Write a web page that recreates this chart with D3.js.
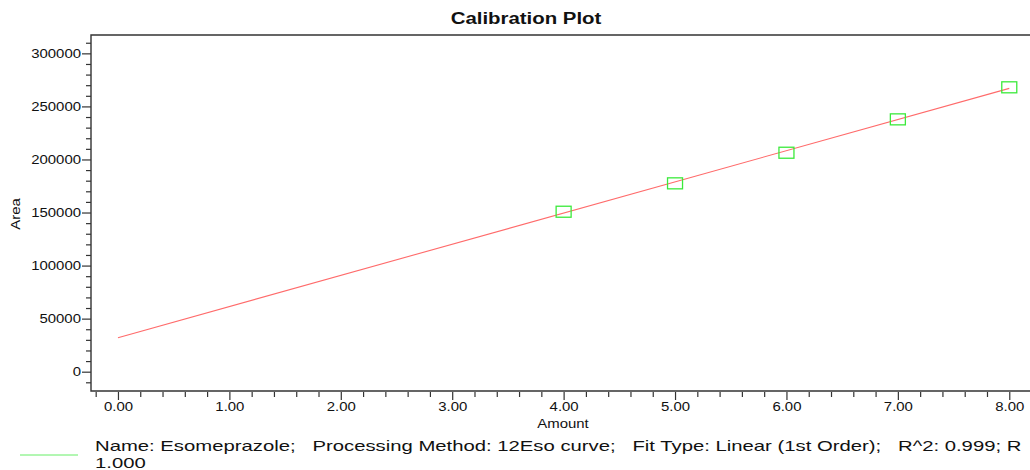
<!DOCTYPE html>
<html>
<head>
<meta charset="utf-8">
<script src="https://cdn.jsdelivr.net/npm/d3@7"></script>
<style>
  body { margin: 0; background: #fff; }
  svg text { font-family: "Liberation Sans", Arial, sans-serif; fill: #111; }
</style>
</head>
<body>
<div id="chart"></div>
<script>
// Calibration data
var amounts = [4.00, 5.00, 6.00, 7.00, 8.00];
var areas = [150750, 177500, 206350, 237800, 268000];

// fitted line ends
var fitAmounts = [0.00, 8.00];
var fitAreas = [32000, 267000];

var xMajor = [0, 1, 2, 3, 4, 5, 6, 7, 8];
var yMajor = [0, 50000, 100000, 150000, 200000, 250000, 300000];

var titleText = "Calibration Plot";
var xLabel = "Amount";
var yLabel = "Area";
var legendLines = [
    "Name: Esomeprazole;   Processing Method: 12Eso curve;   Fit Type: Linear (1st Order);   R^2: 0.999; R",
    "1.000"
];

var W = 1030, H = 470;
var SX = 1.15; // text in the source is stretched sideways
var mLeft = 91, mTop = 35, mBottom = 391;

var svg = d3.select("#chart")
    .append("svg")
    .attr("width", W)
    .attr("height", H);

var x = d3.scaleLinear().domain([-0.242, 8.186]).range([mLeft, W]);
var y = d3.scaleLinear().domain([-18200, 317300]).range([mBottom, mTop]);

function stretched(sel, px, py, sx) {
    return sel.attr("transform", "translate(" + px + "," + py + ") scale(" + (sx || SX) + ",1)");
}

// minor ticks
var xMinor = d3.range(-0.2, 8.11, 0.2).map(function(d) { return +d.toFixed(1); })
    .filter(function(d) { return xMajor.indexOf(d) < 0; });
var yMinor = d3.range(-10000, 310001, 10000)
    .filter(function(d) { return yMajor.indexOf(d) < 0; });

svg.append("g")
    .attr("transform", "translate(0," + (mBottom + 1) + ")")
    .call(d3.axisBottom(x).tickValues(xMinor).tickSize(5).tickFormat(""))
    .call(function(g) { g.select(".domain").remove(); });

svg.append("g")
    .attr("transform", "translate(" + mLeft + ",0)")
    .call(d3.axisLeft(y).tickValues(yMinor).tickSize(5).tickFormat(""))
    .call(function(g) { g.select(".domain").remove(); });

var xAxis = svg.append("g")
    .attr("transform", "translate(0," + (mBottom + 1) + ")")
    .call(d3.axisBottom(x).tickValues(xMajor).tickSize(8).tickFormat(d3.format(".2f")));
xAxis.select(".domain").remove();
xAxis.selectAll("text")
    .attr("y", null).attr("dy", null)
    .style("font-size", "13px")
    .attr("transform", "translate(0,19) scale(" + SX + ",1)");

var yAxis = svg.append("g")
    .attr("transform", "translate(" + mLeft + ",0)")
    .call(d3.axisLeft(y).tickValues(yMajor).tickSize(9).tickFormat(d3.format("d")));
yAxis.select(".domain").remove();
yAxis.selectAll("text")
    .attr("x", null)
    .style("font-size", "13px")
    .attr("transform", "translate(-10,0) scale(" + SX + ",1)");

svg.selectAll(".tick line").attr("stroke", "#333").attr("stroke-width", 1.2);

// frame: left, top, bottom
svg.append("path")
    .attr("d", "M" + W + "," + mTop + "H" + mLeft + "V" + mBottom + "H" + W)
    .attr("fill", "none")
    .attr("stroke", "#333")
    .attr("stroke-width", 1.4);

// fit line
svg.append("line")
    .attr("x1", x(fitAmounts[0])).attr("y1", y(fitAreas[0]))
    .attr("x2", x(fitAmounts[1])).attr("y2", y(fitAreas[1]))
    .attr("stroke", "#ff6b6b")
    .attr("stroke-width", 1.1);

// points
svg.selectAll(".pt")
    .data(amounts)
    .enter()
    .append("rect")
    .attr("class", "pt")
    .attr("x", function(d) { return x(d) - 7.5; })
    .attr("y", function(d, i) { return y(areas[i]) - 5.5; })
    .attr("width", 15)
    .attr("height", 11)
    .attr("fill", "none")
    .attr("stroke", "#3bea3b")
    .attr("stroke-width", 1.3);

// titles
stretched(svg.append("text"), 526, 24, 1.2)
    .attr("text-anchor", "middle")
    .style("font-size", "17px")
    .style("font-weight", "bold")
    .text(titleText);

stretched(svg.append("text"), 563, 428)
    .attr("text-anchor", "middle")
    .style("font-size", "13px")
    .text(xLabel);

svg.append("text")
    .attr("transform", "translate(20,214) rotate(-90) scale(" + SX + ",1)")
    .attr("text-anchor", "middle")
    .style("font-size", "13px")
    .text(yLabel);

// legend
svg.append("line")
    .attr("x1", 20).attr("x2", 78)
    .attr("y1", 455).attr("y2", 455)
    .attr("stroke", "#66ee66")
    .attr("stroke-width", 1);

var legendTexts = legendLines.map(function(t, i) {
    return svg.append("text")
        .style("font-size", "15px")
        .style("white-space", "pre")
        .text(t);
});
// first legend line runs from x=95 to about x=1022
var legendScale = 927 / legendTexts[0].node().getComputedTextLength();
legendTexts.forEach(function(t, i) {
    stretched(t, 95, 451 + i * 17, legendScale);
});
</script>
</body>
</html>
